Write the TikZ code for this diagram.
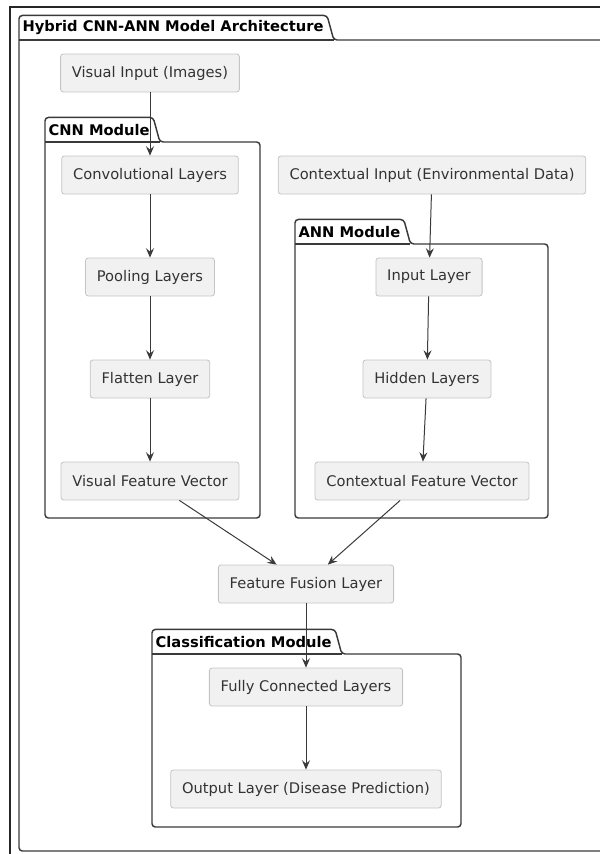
\documentclass[tikz,border=0pt]{standalone}
\usepackage{fontspec}
\setmainfont{DejaVu Sans}
\usetikzlibrary{arrows.meta,positioning}
\definecolor{layerfill}{HTML}{F1F1F1}
\definecolor{layerdraw}{HTML}{C4C4C4}
\definecolor{pkgdraw}{HTML}{3A3A3A}
\definecolor{layertext}{HTML}{333333}
% package with a tab: name, title, left, top, right, bottom
\newcommand\pkgmodule[6]{%
\node[modtitle] (#1) at (#3,#4) {#2};
\draw[modline] (#1.north west) -- (#1.north east) -- ([xshift=5pt]#1.south east) -- (#5,#4) -- (#5,#6) -- (#3,#6) -- cycle;
\draw[modline] (#1.south west) -- ([xshift=5pt]#1.south east);
}

\begin{document}
\begin{tikzpicture}[x=0.75pt,y=-0.75pt,
  layer/.style={draw=layerdraw, fill=layerfill, rounded corners=2pt, line width=0.6pt,
    minimum height=28.5pt, inner xsep=8.5pt, text=layertext, font=\fontsize{11}{13}\selectfont},
  modtitle/.style={anchor=south west, minimum height=18pt, inner xsep=2.5pt, inner ysep=0pt,
    font=\bfseries\fontsize{11}{13}\selectfont},
  modline/.style={draw=pkgdraw, line width=1.1pt, rounded corners=2.5pt},
  flow/.style={draw=pkgdraw, line width=0.75pt, -{Stealth[length=7pt,width=6pt,inset=2.5pt]}}]

  \useasboundingbox (0,0) rectangle (600,854);

  % outer frame, cut off at right and bottom
  \draw[line width=1.5pt, draw=black!85] (10,880) -- (10,7) -- (640,7);

  %% packages
  \pkgmodule{arch}{Hybrid CNN-ANN Model Architecture}{19}{40}{660}{851}
  \pkgmodule{cnn}{CNN Module}{45}{142}{260}{518}
  \pkgmodule{ann}{ANN Module}{295}{244}{548}{518}
  \pkgmodule{cls}{Classification Module}{152}{654}{461}{827}

  %% visual branch
  \node[layer] (vis)  at (150,73)  {Visual Input (Images)};
  \node[layer] (conv) at (150,175) {Convolutional Layers};
  \node[layer] (pool) at (150,277) {Pooling Layers};
  \node[layer] (flat) at (150,379) {Flatten Layer};
  \node[layer] (vfv)  at (150,481) {Visual Feature Vector};

  %% contextual branch
  \node[layer] (ctx)  at (432,175) {Contextual Input (Environmental Data)};
  \node[layer] (inl)  at (429,277) {Input Layer};
  \node[layer] (hid)  at (427,379) {Hidden Layers};
  \node[layer] (cfv)  at (422,481) {Contextual Feature Vector};

  %% fusion and classification
  \node[layer] (fus)  at (306,584) {Feature Fusion Layer};
  \node[layer] (fcl)  at (306,687) {Fully Connected Layers};
  \node[layer] (outl) at (306,789) {Output Layer (Disease Prediction)};

  \draw[flow] (vis) -- (conv);
  \draw[flow] (conv) -- (pool);
  \draw[flow] (pool) -- (flat);
  \draw[flow] (flat) -- (vfv);
  \draw[flow] (ctx) -- (inl);
  \draw[flow] (inl) -- (hid);
  \draw[flow] (hid) -- (cfv);
  \draw[flow] (vfv) -- (fus);
  \draw[flow] (cfv) -- (fus);
  \draw[flow] (fus) -- (fcl);
  \draw[flow] (fcl) -- (outl);
\end{tikzpicture}
\end{document}
